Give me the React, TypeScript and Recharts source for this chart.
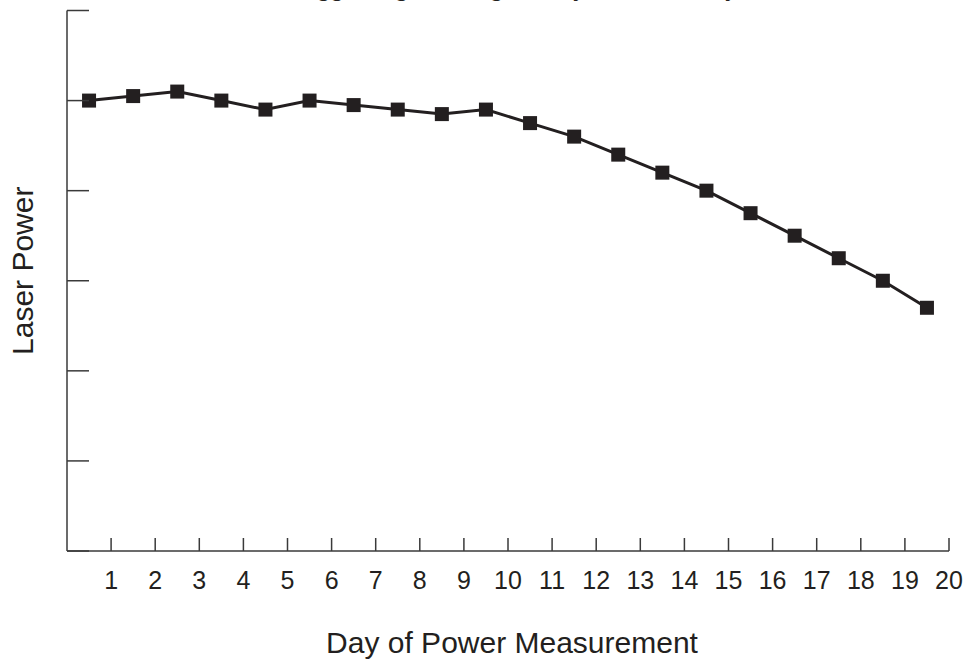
import React from "react";
import { LineChart, Line, XAxis, YAxis } from "recharts";

const dayPositions = [0.5, 1.5, 2.5, 3.5, 4.5, 5.5, 6.5, 7.5, 8.5, 9.5, 10.5, 11.5, 12.5, 13.5, 14.5, 15.5, 16.5, 17.5, 18.5, 19.5];
const laserPower = [5.0, 5.05, 5.1, 5.0, 4.9, 5.0, 4.95, 4.9, 4.85, 4.9, 4.75, 4.6, 4.4, 4.2, 4.0, 3.75, 3.5, 3.25, 3.0, 2.7];
const xTicks = [1, 2, 3, 4, 5, 6, 7, 8, 9, 10, 11, 12, 13, 14, 15, 16, 17, 18, 19, 20];
const yTicks = [0, 1, 2, 3, 4, 5, 6];
const titleText = "Laser data suggesting a strong, steady decline, daily";
const xTitle = "Day of Power Measurement";
const yTitle = "Laser Power";

const data = dayPositions.map((d, i) => ({ day: d, power: laserPower[i] }));

const INK = "#231f20";
const AXIS = "#3a3a3a";
const FONT = "'Liberation Sans', Arial, Helvetica, sans-serif";

const XTick = (props: any) => {
  const { x, y, payload } = props;
  return (
    <g>
      <line x1={x} y1={y} x2={x} y2={y - 13} stroke={AXIS} strokeWidth={1.5} />
      <text x={x} y={y + 29} textAnchor="middle" dominantBaseline="central" fontSize={25} fontFamily={FONT} fill={INK}>
        {payload.value}
      </text>
    </g>
  );
};

const YTick = (props: any) => {
  const { x, y } = props;
  return <line x1={x} y1={y} x2={x + 22} y2={y} stroke={AXIS} strokeWidth={1.5} />;
};

const SquareDot = (props: any) => {
  const { cx, cy, index } = props;
  if (cx == null || cy == null) return null;
  return <rect key={`sq-${index}`} x={cx - 7} y={cy - 7} width={14} height={14} fill={INK} />;
};

const YLabel = (props: any) => {
  const { viewBox } = props;
  const cx = viewBox.x + 22;
  const cy = viewBox.y + viewBox.height / 2 - 10;
  return (
    <text x={cx} y={cy} transform={`rotate(-90 ${cx} ${cy})`} textAnchor="middle" dominantBaseline="central" fontSize={30} fontFamily={FONT} fill={INK}>
      {yTitle}
    </text>
  );
};

const XLabel = (props: any) => {
  const { viewBox } = props;
  const cx = viewBox.x + viewBox.width / 2 + 4;
  return (
    <text x={cx} y={653} textAnchor="middle" fontSize={30} fontFamily={FONT} fill={INK}>
      {xTitle}
    </text>
  );
};

export default function App() {
  return (
    <div style={{ position: "absolute", left: 0, top: 0, width: 972, height: 662, overflow: "hidden", background: "#fff" }}>
      <div
        style={{
          position: "absolute",
          left: -30,
          width: 972,
          top: -27,
          textAlign: "center",
          fontFamily: "'Liberation Serif', 'Times New Roman', serif",
          fontStyle: "italic",
          fontSize: 27,
          lineHeight: "27px",
          color: INK,
          whiteSpace: "nowrap",
        }}
      >
        {titleText}
      </div>
      <LineChart width={972} height={662} data={data} margin={{ top: 10.5, right: 23, bottom: 0, left: 0 }}>
        <XAxis
          dataKey="day"
          type="number"
          domain={[0, 20]}
          ticks={xTicks}
          interval={0}
          height={111}
          tickSize={0}
          tickMargin={0}
          tickLine={false}
          tick={<XTick />}
          axisLine={{ stroke: AXIS, strokeWidth: 1.5 }}
          label={<XLabel />}
        />
        <YAxis
          type="number"
          domain={[0, 6]}
          ticks={yTicks}
          interval={0}
          width={67}
          tickSize={0}
          tickMargin={0}
          tickLine={false}
          tick={<YTick />}
          axisLine={{ stroke: AXIS, strokeWidth: 1.5 }}
          label={<YLabel />}
        />
        <Line
          type="linear"
          dataKey="power"
          stroke={INK}
          strokeWidth={3}
          dot={<SquareDot />}
          activeDot={false}
          isAnimationActive={false}
        />
      </LineChart>
    </div>
  );
}
